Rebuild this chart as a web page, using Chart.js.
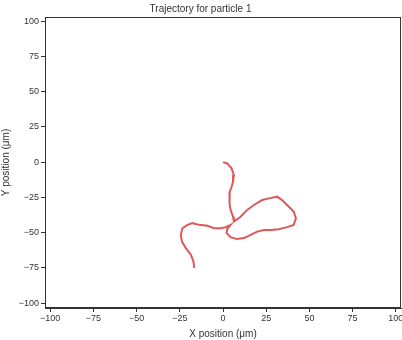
<!DOCTYPE html>
<html>
<head>
<meta charset="utf-8">
<script src="https://cdn.jsdelivr.net/npm/chart.js@4"></script>
<style>
  html, body { margin: 0; padding: 0; background: #fff; }
  #wrap { width: 402px; height: 340px; }
</style>
</head>
<body>
<div id="wrap"><canvas id="traj"></canvas></div>
<script>
// particle 1 positions, in micrometres
const xPos = [0, 2.5, 5.0, 6.3, 5.8, 5.0, 3.9, 3.5, 4.0, 4.4, 5.8, 6.3,
  10.2, 14.0, 17.9, 22.7, 26.5, 31.3, 34.2, 37.1, 40.9, 42.2, 40.9, 37.1, 32.3,
  27.5, 23.6, 19.8, 16.0, 12.1, 8.2, 4.4, 2.1, 2.5, 4.4,
  1.6, -1.3, -5.2, -9.0, -13.8, -17.7, -20.6, -23.5, -24.4, -23.8, -21.5,
  -18.6, -17.1, -16.7];
const yPos = [0, -0.9, -4.5, -9.2, -13.9, -17.5, -21.0, -24.5, -29.2, -33.9, -38.7, -42.2,
  -38.7, -33.9, -30.4, -26.9, -25.7, -24.5, -26.9, -30.4, -35.1, -39.8, -44.5, -46.1, -47.6,
  -48.1, -48.1, -49.3, -51.6, -53.9, -54.6, -53.2, -50.4, -47.3, -44.5,
  -46.1, -46.9, -46.9, -45.2, -44.5, -43.3, -44.5, -46.9, -51.6, -56.3, -61.0,
  -65.7, -70.5, -75.1];
const tickVals = [-100, -75, -50, -25, 0, 25, 50, 75, 100];

const ink = '#333333';
const family = 'Liberation Sans, Arial, sans-serif';
const tickFont = { family: family, size: 9 };
const labelFont = { family: family, size: 10, weight: 'normal' };

// full box around the plot area
const frame = {
  id: 'frame',
  afterDraw(chart) {
    const a = chart.chartArea, c = chart.ctx;
    c.save();
    c.strokeStyle = ink;
    c.lineWidth = 1;
    c.strokeRect(a.left + 0.5, a.top + 0.5, a.right - a.left - 1, a.bottom - a.top - 1);
    c.restore();
  }
};

const fixTicks = s => { s.ticks = tickVals.map(v => ({ value: v })); };
const minus = v => String(v).replace('-', '\u2212');

new Chart(document.getElementById('traj'), {
  type: 'scatter',
  data: {
    datasets: [{
      data: xPos.map((x, i) => ({ x: x, y: yPos[i] })),
      showLine: true,
      borderColor: '#df5858',
      borderWidth: 2,
      pointRadius: 0,
      tension: 0
    }]
  },
  options: {
    responsive: true,
    maintainAspectRatio: false,
    animation: false,
    layout: { padding: { right: 1, bottom: 0, left: 0, top: 0 } },
    plugins: {
      legend: { display: false },
      tooltip: { enabled: false },
      title: {
        display: true,
        text: 'Trajectory for particle 1',
        color: ink,
        font: labelFont,
        padding: { top: 3, bottom: 2 }
      }
    },
    scales: {
      x: {
        type: 'linear',
        min: -103, max: 103,
        afterBuildTicks: fixTicks,
        afterFit: s => { s.height = 32; s.paddingLeft = 0; s.paddingRight = 0; },
        border: { display: true, color: ink },
        grid: { drawOnChartArea: false, drawTicks: true, tickLength: 4, tickColor: ink },
        ticks: { color: ink, font: tickFont, padding: 1, maxRotation: 0, callback: minus },
        title: { display: true, text: 'X position (μm)', color: ink, font: labelFont, padding: 0 }
      },
      y: {
        type: 'linear',
        min: -103.5, max: 103,
        afterBuildTicks: fixTicks,
        afterFit: s => { s.width = 45; s.paddingTop = 0; s.paddingBottom = 0; },
        border: { display: true, color: ink },
        grid: { drawOnChartArea: false, drawTicks: true, tickLength: 4, tickColor: ink },
        ticks: { color: ink, font: tickFont, padding: 2, callback: minus },
        title: { display: true, text: 'Y position (μm)', color: ink, font: labelFont, padding: 0 }
      }
    }
  },
  plugins: [frame]
});
</script>
</body>
</html>
